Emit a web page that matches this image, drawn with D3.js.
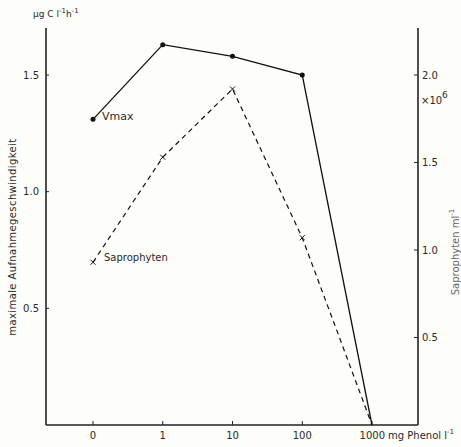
<!DOCTYPE html>
<html>
<head>
<meta charset="utf-8">
<script src="https://cdn.jsdelivr.net/npm/d3@7"></script>
<style>
  body { margin: 0; background: #fdfdf9; }
  svg text { font-family: "DejaVu Sans", sans-serif; fill: #2a2a2a; }
</style>
</head>
<body>
<svg id="chart"></svg>
<script>
// phenol concentrations (category axis)
var categories = ["0", "1", "10", "100", "1000"];
// Vmax, µg C l-1 h-1 (left axis)
var vmax = [1.31, 1.63, 1.58, 1.50, 0];
// Saprophyten, x10^6 ml-1 (right axis)
var sapro = [0.93, 1.53, 1.92, 1.07, 0];
var leftTicks = [0.5, 1.0, 1.5];
var rightTicks = [0.5, 1.0, 1.5, 2.0];

var width = 461, height = 447;
var svg = d3.select("#chart").attr("width", width).attr("height", height);

var x0 = 46, x1 = 418, yBottom = 425, yTop = 28;

// index scale for the categories, first tick at 93, step ~70px
var x = d3.scaleLinear().domain([0, 4]).range([93, 372]);
var yL = d3.scaleLinear().domain([0, 1.5]).range([yBottom, 75]);
var yR = d3.scaleLinear().domain([0, 2.0]).range([yBottom, 75]);

// axes frame
var axisCol = "#222";
svg.append("line").attr("x1", x0).attr("x2", x0).attr("y1", yTop).attr("y2", yBottom)
  .attr("stroke", axisCol).attr("stroke-width", 1.6);
svg.append("line").attr("x1", x1).attr("x2", x1).attr("y1", yTop).attr("y2", yBottom)
  .attr("stroke", axisCol).attr("stroke-width", 1.6);
svg.append("line").attr("x1", x0).attr("x2", x1).attr("y1", yBottom).attr("y2", yBottom)
  .attr("stroke", axisCol).attr("stroke-width", 1.6);

// left ticks
leftTicks.forEach(function(t) {
  svg.append("line").attr("x1", x0).attr("x2", x0 + 3).attr("y1", yL(t)).attr("y2", yL(t))
    .attr("stroke", axisCol).attr("stroke-width", 1);
  svg.append("text").attr("x", x0 - 7).attr("y", yL(t)).attr("dy", "0.35em")
    .attr("text-anchor", "end").attr("font-size", 10).text(t.toFixed(1));
});

// right ticks
rightTicks.forEach(function(t) {
  svg.append("line").attr("x1", x1 - 4).attr("x2", x1).attr("y1", yR(t)).attr("y2", yR(t))
    .attr("stroke", axisCol).attr("stroke-width", 1);
  svg.append("text").attr("x", x1 + 4).attr("y", yR(t)).attr("dy", "0.35em")
    .attr("font-size", 10).text(t.toFixed(1));
});

// bottom ticks
categories.forEach(function(c, i) {
  svg.append("line").attr("x1", x(i)).attr("x2", x(i)).attr("y1", yBottom - 4).attr("y2", yBottom)
    .attr("stroke", axisCol).attr("stroke-width", 1);
  svg.append("text").attr("x", x(i)).attr("y", yBottom + 14)
    .attr("text-anchor", i == 4 ? "end" : "middle").attr("dx", i == 4 ? 13 : 0)
    .attr("font-size", 10).text(c);
});

// units
svg.append("text").attr("x", 388).attr("y", yBottom + 14).attr("font-size", 10)
  .html("mg Phenol l<tspan dy='-5' font-size='7'>-1</tspan>");
svg.append("text").attr("x", 33).attr("y", 17).attr("font-size", 9)
  .html("µg C l<tspan dy='-4' font-size='7'>-1</tspan><tspan dy='4'>h</tspan><tspan dy='-4' font-size='7'>-1</tspan>");
svg.append("text").attr("x", 421).attr("y", 104).attr("font-size", 10)
  .html("×10<tspan dy='-6' font-size='9'>6</tspan>");

// axis titles
svg.append("text").attr("transform", "translate(16,237) rotate(-90)")
  .attr("text-anchor", "middle").attr("font-size", 10).attr("letter-spacing", 0.4)
  .text("maximale  Aufnahmegeschwindigkeit");
svg.append("text").attr("transform", "translate(459,252) rotate(-90)")
  .attr("text-anchor", "middle").attr("font-size", 10).attr("fill-opacity", 0.75)
  .html("Saprophyten  ml<tspan dy='-5' font-size='7'>-1</tspan>");

// Vmax line
var lineL = d3.line().x(function(d, i) { return x(i); }).y(function(d) { return yL(d); });
svg.append("path").datum(vmax).attr("d", lineL)
  .attr("fill", "none").attr("stroke", "#111").attr("stroke-width", 1.3);
svg.selectAll(".dot").data(vmax.slice(0, 4)).enter().append("circle")
  .attr("cx", function(d, i) { return x(i); }).attr("cy", function(d) { return yL(d); })
  .attr("r", 2.5).attr("fill", "#111");

// Saprophyten line
var lineR = d3.line().x(function(d, i) { return x(i); }).y(function(d) { return yR(d); });
svg.append("path").datum(sapro).attr("d", lineR)
  .attr("fill", "none").attr("stroke", "#111").attr("stroke-width", 1.2)
  .attr("stroke-dasharray", "5,4");
svg.selectAll(".cross").data(sapro.slice(0, 4)).enter().append("path")
  .attr("transform", function(d, i) { return "translate(" + x(i) + "," + yR(d) + ")"; })
  .attr("d", "M-2.5,-2.5L2.5,2.5M-2.5,2.5L2.5,-2.5")
  .attr("stroke", "#111").attr("stroke-width", 1);

// series labels
svg.append("text").attr("x", x(0) + 9).attr("y", yL(vmax[0]) + 1).attr("font-size", 11).text("Vmax");
svg.append("text").attr("x", x(0) + 11).attr("y", yR(sapro[0]) - 1).attr("font-size", 10).text("Saprophyten");
</script>
</body>
</html>
